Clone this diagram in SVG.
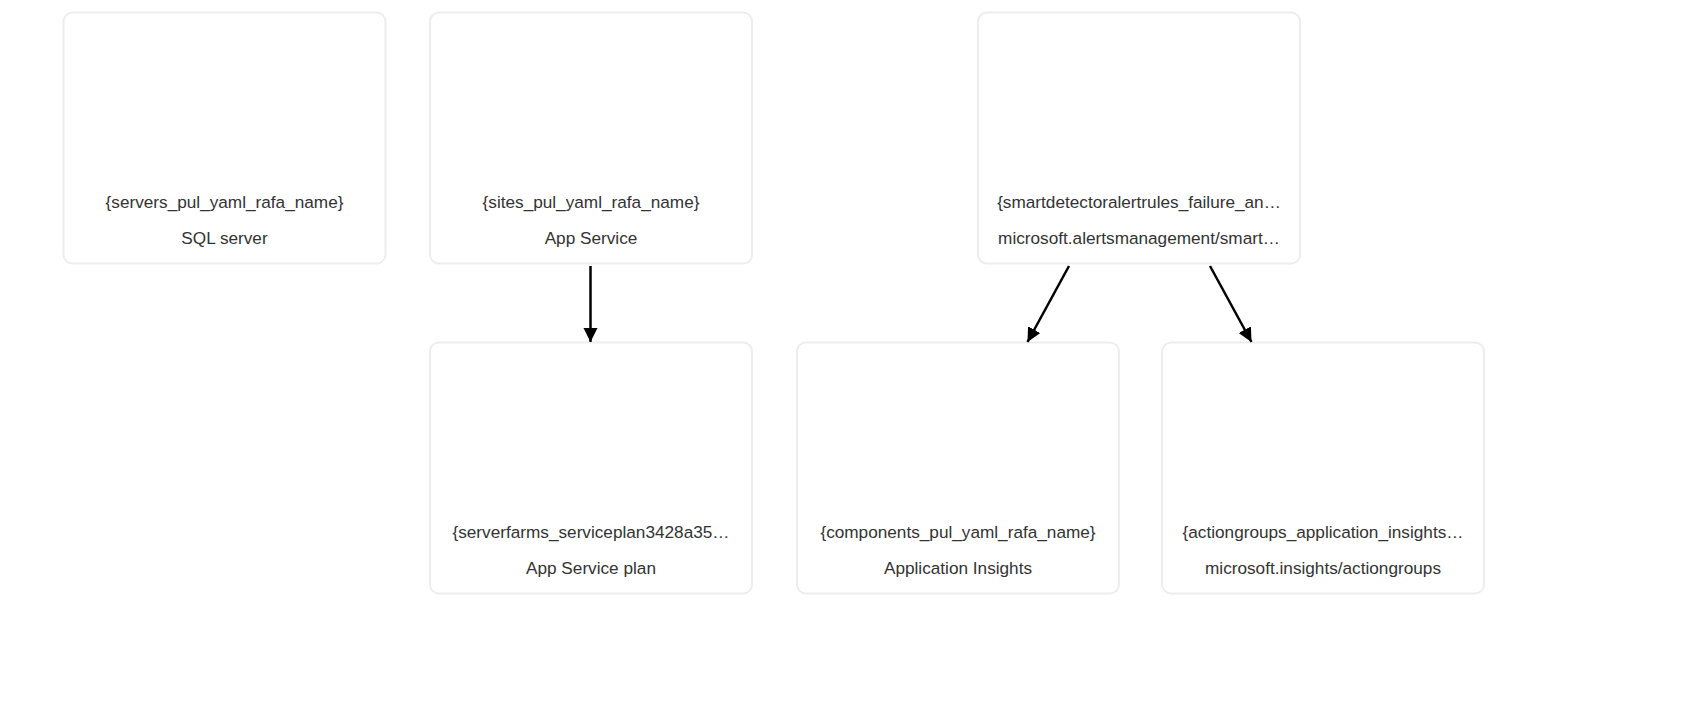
<svg xmlns="http://www.w3.org/2000/svg" width="1685" height="727" viewBox="0 0 1685 727">
  <style>
    .box { fill: #ffffff; stroke: #ededed; stroke-width: 2; }
    .name { font-family: "Liberation Sans", Arial, sans-serif; font-size: 17.2px; fill: #333333; text-anchor: middle; }
    .type { font-family: "Liberation Sans", Arial, sans-serif; font-size: 17.2px; fill: #333333; text-anchor: middle; }
    .edge { stroke: #000000; stroke-width: 2.5; fill: none; }
  </style>
  <defs>
    <marker id="arrow" markerUnits="userSpaceOnUse" markerWidth="15" markerHeight="15" refX="14" refY="7" orient="auto">
      <path d="M0,0 L14,7 L0,14 z" fill="#000000"/>
    </marker>
  </defs>
  <rect width="1685" height="727" fill="#ffffff"/>

  <g id="node-sqlserver">
    <rect class="box" x="63.5" y="12.5" width="322" height="251" rx="9"/>
    <text class="name" x="224.5" y="208">{servers_pul_yaml_rafa_name}</text>
    <text class="type" x="224.5" y="244">SQL server</text>
  </g>

  <g id="node-appservice">
    <rect class="box" x="430" y="12.5" width="322" height="251" rx="9"/>
    <text class="name" x="591" y="208">{sites_pul_yaml_rafa_name}</text>
    <text class="type" x="591" y="244">App Service</text>
  </g>

  <g id="node-smartdetector">
    <rect class="box" x="978" y="12.5" width="322" height="251" rx="9"/>
    <text class="name" x="1139" y="208">{smartdetectoralertrules_failure_an…</text>
    <text class="type" x="1139" y="244">microsoft.alertsmanagement/smart…</text>
  </g>

  <g id="node-serverfarms">
    <rect class="box" x="430" y="342.5" width="322" height="251" rx="9"/>
    <text class="name" x="591" y="538">{serverfarms_serviceplan3428a35…</text>
    <text class="type" x="591" y="574">App Service plan</text>
  </g>

  <g id="node-components">
    <rect class="box" x="797" y="342.5" width="322" height="251" rx="9"/>
    <text class="name" x="958" y="538">{components_pul_yaml_rafa_name}</text>
    <text class="type" x="958" y="574">Application Insights</text>
  </g>

  <g id="node-actiongroups">
    <rect class="box" x="1162" y="342.5" width="322" height="251" rx="9"/>
    <text class="name" x="1323" y="538">{actiongroups_application_insights…</text>
    <text class="type" x="1323" y="574">microsoft.insights/actiongroups</text>
  </g>

  <g id="connectors">
    <line class="edge" x1="590.5" y1="266" x2="590.5" y2="342" marker-end="url(#arrow)"/>
    <line class="edge" x1="1069" y1="266" x2="1027.5" y2="342" marker-end="url(#arrow)"/>
    <line class="edge" x1="1210" y1="266" x2="1251.5" y2="342" marker-end="url(#arrow)"/>
  </g>
</svg>
